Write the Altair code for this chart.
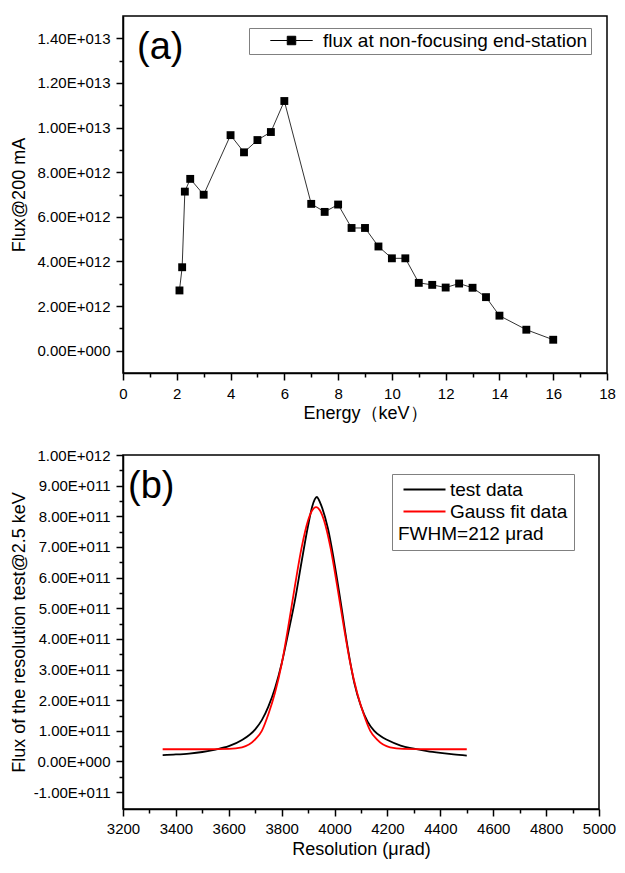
import json
import altair as alt
import pandas as pd

FONT = "Liberation Sans"

# ---------------- panel (a) data ----------------
energy_kev = [2.1, 2.2, 2.3, 2.5, 3, 4, 4.5, 5, 5.5, 6, 7, 7.5, 8, 8.5, 9, 9.5,
              10, 10.5, 11, 11.5, 12, 12.5, 13, 13.5, 14, 15, 16]
flux_200ma = [2.70e12, 3.74e12, 7.13e12, 7.70e12, 6.99e12, 9.66e12, 8.89e12,
              9.44e12, 9.80e12, 11.19e12, 6.58e12, 6.22e12, 6.55e12, 5.50e12,
              5.50e12, 4.67e12, 4.14e12, 4.14e12, 3.04e12, 2.95e12, 2.83e12,
              3.01e12, 2.82e12, 2.40e12, 1.57e12, 0.94e12, 0.49e12]
series_a = ["flux at non-focusing end-station"]

a_x_major = [0, 2, 4, 6, 8, 10, 12, 14, 16, 18]
a_x_minor = [1, 3, 5, 7, 9, 11, 13, 15, 17]
a_y_major = [0, 2e12, 4e12, 6e12, 8e12, 1e13, 1.2e13, 1.4e13]
a_y_labels = ["0.00E+000", "2.00E+012", "4.00E+012", "6.00E+012", "8.00E+012",
              "1.00E+013", "1.20E+013", "1.40E+013"]
a_y_minor = [1e12, 3e12, 5e12, 7e12, 9e12, 1.1e13, 1.3e13]

# ---------------- panel (b) data ----------------
test_x = [3350, 3400, 3450, 3500, 3550, 3600, 3650, 3700, 3725, 3750, 3775, 3800,
          3825, 3850, 3875, 3900, 3915, 3925, 3933, 3940, 3950, 3975, 4000, 4025,
          4050, 4075, 4100, 4125, 4150, 4175, 4200, 4250, 4300, 4350, 4400, 4450, 4500]
test_y = [0.21e11, 0.23e11, 0.26e11, 0.31e11, 0.39e11, 0.50e11, 0.70e11, 1.05e11,
          1.35e11, 1.80e11, 2.40e11, 3.20e11, 4.20e11, 5.25e11, 6.50e11, 7.70e11,
          8.30e11, 8.55e11, 8.63e11, 8.55e11, 8.35e11, 7.60e11, 6.45e11, 5.10e11,
          3.70e11, 2.55e11, 1.80e11, 1.30e11, 1.00e11, 0.82e11, 0.70e11, 0.52e11,
          0.42e11, 0.34e11, 0.28e11, 0.23e11, 0.19e11]
gauss_x = [3350, 3500, 3600, 3650, 3700, 3725, 3750, 3775, 3800, 3825, 3850, 3875,
           3900, 3915, 3930, 3945, 3960, 3985, 4010, 4035, 4060, 4085, 4110, 4135,
           4160, 4210, 4260, 4350, 4500]
gauss_y = [0.40e11, 0.40e11, 0.41e11, 0.46e11, 0.72e11, 1.00e11, 1.55e11, 2.25e11,
           3.18e11, 4.40e11, 5.72e11, 6.96e11, 7.87e11, 8.19e11, 8.30e11, 8.19e11,
           7.87e11, 6.96e11, 5.72e11, 4.40e11, 3.18e11, 2.25e11, 1.55e11, 1.00e11,
           0.72e11, 0.46e11, 0.41e11, 0.40e11, 0.40e11]
series_b = ["test data", "Gauss fit data"]
series_b_colors = ["black", "red"]
fwhm_text = "FWHM=212 μrad"

b_x_major = [3200, 3400, 3600, 3800, 4000, 4200, 4400, 4600, 4800, 5000]
b_x_minor = [3300, 3500, 3700, 3900, 4100, 4300, 4500, 4700, 4900]
b_y_major = [-1e11, 0, 1e11, 2e11, 3e11, 4e11, 5e11, 6e11, 7e11, 8e11, 9e11, 1e12]
b_y_labels = ["-1.00E+011", "0.00E+000", "1.00E+011", "2.00E+011", "3.00E+011",
              "4.00E+011", "5.00E+011", "6.00E+011", "7.00E+011", "8.00E+011",
              "9.00E+011", "1.00E+012"]
b_y_minor = [-5e10, 5e10, 1.5e11, 2.5e11, 3.5e11, 4.5e11, 5.5e11, 6.5e11,
             7.5e11, 8.5e11, 9.5e11]

panel_labels = ["(a)", "(b)"]


def label_expr(values, labels):
    expr = "''"
    for v, l in reversed(list(zip(values, labels))):
        expr = f"abs(datum.value - ({v})) < 1 ? '{l}' : ({expr})"
    return expr


def tick_size(major):
    return {"condition": {"test": f"indexof({json.dumps(major)}, datum.value) < 0",
                          "value": 4}, "value": 7}


def axis(title, major, minor, labels, title_pad, label_pad=6):
    return alt.Axis(title=title, values=major + minor,
                    labelExpr=label_expr(major, labels),
                    tickSize=tick_size(major), labelPadding=label_pad,
                    titlePadding=title_pad, labelFlush=False, labelOverlap=False,
                    grid=False)


# ---------------- panel (a) ----------------
df_a = pd.DataFrame({"energy": energy_kev, "flux": flux_200ma,
                     "series": series_a * len(energy_kev)})
xa = alt.X("energy:Q", scale=alt.Scale(domain=[0, 18], nice=False, zero=False),
           axis=axis("Energy（keV）", a_x_major, a_x_minor,
                     [str(v) for v in a_x_major], 3))
ya = alt.Y("flux:Q", scale=alt.Scale(domain=[-1e12, 1.5e13], nice=False),
           axis=axis("Flux@200 mA", a_y_major, a_y_minor, a_y_labels, 9))

line_a = alt.Chart(df_a).mark_line(color="#333333", strokeWidth=1).encode(x=xa, y=ya)
pts_a = alt.Chart(df_a).mark_point(shape="square", filled=True, size=62, opacity=1).encode(
    x=xa, y=ya,
    color=alt.Color("series:N", scale=alt.Scale(domain=series_a, range=["black"]),
                    legend=alt.Legend(
                        title=None, orient="none", legendX=126, legendY=12,
                        symbolType="M-5,0H-1M1,0H5M-1,-1H1V1H-1Z", symbolSize=72,
                        symbolStrokeWidth=1, symbolStrokeColor="black",
                        symbolFillColor="black", symbolOffset=30, labelOffset=22,
                        labelFontSize=19, labelFont=FONT, labelColor="black",
                        labelLimit=600, padding=3, strokeColor="#808080",
                        fillColor="white")))
lab_a = alt.Chart(pd.DataFrame({"t": [panel_labels[0]]})).mark_text(
    align="left", baseline="alphabetic", fontSize=38, font=FONT, color="black"
).encode(text="t:N", x=alt.value(14), y=alt.value(43))

top = alt.layer(line_a, pts_a, lab_a).properties(width=484, height=357)

# ---------------- panel (b) ----------------
df_b = pd.concat([
    pd.DataFrame({"res": test_x, "flux": test_y, "series": series_b[0]}),
    pd.DataFrame({"res": gauss_x, "flux": gauss_y, "series": series_b[1]}),
])
xb = alt.X("res:Q", scale=alt.Scale(domain=[3200, 5000], nice=False, zero=False),
           axis=axis("Resolution (μrad)", b_x_major, b_x_minor,
                     [str(v) for v in b_x_major], 4, 5))
yb = alt.Y("flux:Q", scale=alt.Scale(domain=[-1.55e11, 1e12], nice=False),
           axis=axis("Flux of the resolution test@2.5 keV", b_y_major, b_y_minor,
                     b_y_labels, 5))

line_b = alt.Chart(df_b).mark_line(strokeWidth=1.8, interpolate="monotone").encode(
    x=xb, y=yb,
    detail="series:N",
    order=alt.Order("res:Q"),
    color=alt.Color("series:N", sort=series_b,
                    scale=alt.Scale(domain=series_b, range=series_b_colors),
                    legend=alt.Legend(
                        title=fwhm_text, titleOrient="bottom", titleAnchor="start",
                        titleFontSize=19, titleFont=FONT, titleFontWeight="normal",
                        titleColor="black", titlePadding=3,
                        orient="none", legendX=269, legendY=19,
                        symbolType="M-6,0H6", symbolSize=49, symbolStrokeWidth=2,
                        symbolOffset=17, labelOffset=16, rowPadding=2,
                        labelFontSize=19, labelFont=FONT, labelColor="black",
                        labelLimit=600, padding=6, strokeColor="#808080",
                        fillColor="white")))
lab_b = alt.Chart(pd.DataFrame({"t": [panel_labels[1]]})).mark_text(
    align="left", baseline="alphabetic", fontSize=38, font=FONT, color="black"
).encode(text="t:N", x=alt.value(5), y=alt.value(43))

bottom = alt.layer(line_b, lab_b).properties(width=476, height=354)

chart = alt.vconcat(top, bottom, spacing=24).resolve_scale(
    color="independent"
).resolve_legend(color="independent").properties(
    padding={"left": 1, "top": 7, "right": 0, "bottom": 0}
).configure(font=FONT).configure_view(
    stroke="black", strokeWidth=1.5
).configure_axis(
    labelFont=FONT, titleFont=FONT, labelFontSize=15, titleFontSize=18,
    titleFontWeight="normal", labelColor="black", titleColor="black",
    domainColor="black", domainWidth=1.5, tickColor="black", tickWidth=1.5
)

chart.save("out.html", embed_options={"renderer": "svg", "actions": False})
